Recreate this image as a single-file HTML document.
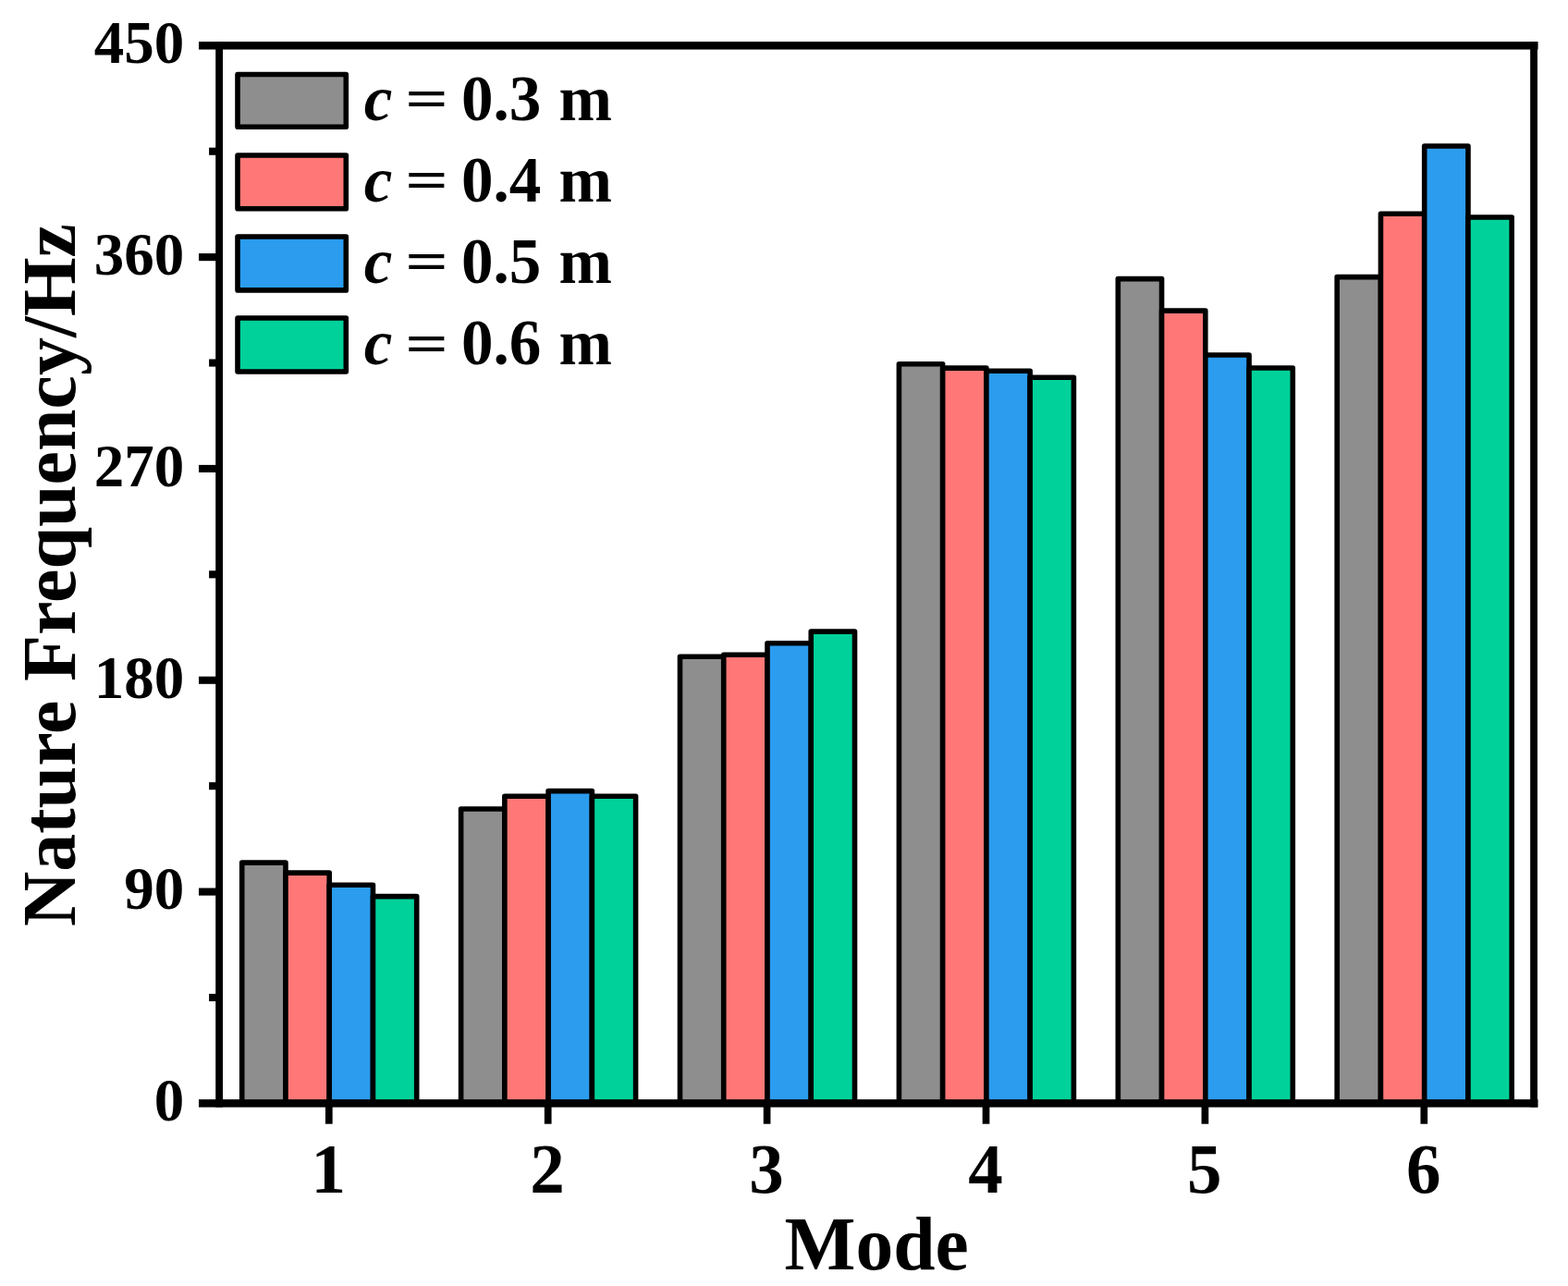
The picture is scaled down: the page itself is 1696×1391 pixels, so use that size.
<!DOCTYPE html>
<html lang="en"><head><meta charset="utf-8"><title>Nature Frequency by Mode</title>
<style>
html,body{margin:0;padding:0;background:#fff;}
body{width:1696px;height:1391px;overflow:hidden;}
svg{display:block;}
text{font-family:"Liberation Serif","Times New Roman",Times,serif;font-weight:bold;fill:#000;}
.yt{font-size:65px;text-anchor:end;}
.xt{font-size:75px;text-anchor:middle;}
.lg{font-size:69px;white-space:pre;}
.ti{font-size:81.5px;text-anchor:middle;}
.bar{stroke:#000;stroke-width:5.6;stroke-linejoin:round;}
.lb{stroke:#000;stroke-width:5.6;stroke-linejoin:round;}
</style></head><body>
<svg width="1696" height="1391" viewBox="0 0 1696 1391">
<rect x="0" y="0" width="1696" height="1391" fill="#fff"/>
<g id="bars">
<rect class="bar" x="261.7" y="933.1" width="47.25" height="260.3" fill="#8e8e8e"/>
<rect class="bar" x="308.95" y="944.1" width="47.25" height="249.3" fill="#ff7877"/>
<rect class="bar" x="356.2" y="957.2" width="47.25" height="236.2" fill="#2b9cee"/>
<rect class="bar" x="403.45" y="969.6" width="47.25" height="223.8" fill="#00d19a"/>
<rect class="bar" x="498.6" y="875.05" width="47.25" height="318.35" fill="#8e8e8e"/>
<rect class="bar" x="545.85" y="861.2" width="47.25" height="332.2" fill="#ff7877"/>
<rect class="bar" x="593.1" y="855.6" width="47.25" height="337.8" fill="#2b9cee"/>
<rect class="bar" x="640.35" y="861.2" width="47.25" height="332.2" fill="#00d19a"/>
<rect class="bar" x="735.5" y="710.3" width="47.25" height="483.1" fill="#8e8e8e"/>
<rect class="bar" x="782.75" y="708.3" width="47.25" height="485.1" fill="#ff7877"/>
<rect class="bar" x="830" y="695.7" width="47.25" height="497.7" fill="#2b9cee"/>
<rect class="bar" x="877.25" y="683.1" width="47.25" height="510.3" fill="#00d19a"/>
<rect class="bar" x="972.4" y="393.7" width="47.25" height="799.7" fill="#8e8e8e"/>
<rect class="bar" x="1019.65" y="398.1" width="47.25" height="795.3" fill="#ff7877"/>
<rect class="bar" x="1066.9" y="401.2" width="47.25" height="792.2" fill="#2b9cee"/>
<rect class="bar" x="1114.15" y="408.2" width="47.25" height="785.2" fill="#00d19a"/>
<rect class="bar" x="1209.3" y="301.6" width="47.25" height="891.8" fill="#8e8e8e"/>
<rect class="bar" x="1256.55" y="336.1" width="47.25" height="857.3" fill="#ff7877"/>
<rect class="bar" x="1303.8" y="384" width="47.25" height="809.4" fill="#2b9cee"/>
<rect class="bar" x="1351.05" y="398" width="47.25" height="795.4" fill="#00d19a"/>
<rect class="bar" x="1446.2" y="299.6" width="47.25" height="893.8" fill="#8e8e8e"/>
<rect class="bar" x="1493.45" y="231.2" width="47.25" height="962.2" fill="#ff7877"/>
<rect class="bar" x="1540.7" y="158" width="47.25" height="1035.4" fill="#2b9cee"/>
<rect class="bar" x="1587.95" y="235" width="47.25" height="958.4" fill="#00d19a"/>
</g>
<g id="axes" fill="#000">
<rect x="215" y="45.05" width="1448.55" height="8.5"/>
<rect x="215" y="1189.15" width="1448.55" height="8.5"/>
<rect x="233.2" y="45.05" width="7.8" height="1152.6"/>
<rect x="1655.15" y="45.05" width="7.8" height="1152.6"/>
<rect x="226.1" y="1074.94" width="11" height="8.1"/>
<rect x="215" y="960.53" width="22.1" height="8.1"/>
<rect x="226.1" y="846.12" width="11" height="8.1"/>
<rect x="215" y="731.71" width="22.1" height="8.1"/>
<rect x="226.1" y="617.3" width="11" height="8.1"/>
<rect x="215" y="502.89" width="22.1" height="8.1"/>
<rect x="226.1" y="388.48" width="11" height="8.1"/>
<rect x="215" y="274.07" width="22.1" height="8.1"/>
<rect x="226.1" y="159.66" width="11" height="8.1"/>
<rect x="351.95" y="1193.4" width="7.7" height="22.3"/>
<rect x="588.85" y="1193.4" width="7.7" height="22.3"/>
<rect x="825.75" y="1193.4" width="7.7" height="22.3"/>
<rect x="1062.65" y="1193.4" width="7.7" height="22.3"/>
<rect x="1299.55" y="1193.4" width="7.7" height="22.3"/>
<rect x="1536.45" y="1193.4" width="7.7" height="22.3"/>
</g>
<g id="ylabels">
<text class="yt" transform="translate(199.3 1212.2) scale(1 1.02)">0</text>
<text class="yt" transform="translate(199.3 983.38) scale(1 1.02)">90</text>
<text class="yt" transform="translate(199.3 754.56) scale(1 1.02)">180</text>
<text class="yt" transform="translate(199.3 525.74) scale(1 1.02)">270</text>
<text class="yt" transform="translate(199.3 296.92) scale(1 1.02)">360</text>
<text class="yt" transform="translate(199.3 68.1) scale(1 1.02)">450</text>
</g>
<g id="xlabels">
<text class="xt" transform="translate(355.2 1290.4) scale(1 1.02)">1</text>
<text class="xt" transform="translate(592.1 1290.4) scale(1 1.02)">2</text>
<text class="xt" transform="translate(829 1290.4) scale(1 1.02)">3</text>
<text class="xt" transform="translate(1065.9 1290.4) scale(1 1.02)">4</text>
<text class="xt" transform="translate(1302.8 1290.4) scale(1 1.02)">5</text>
<text class="xt" transform="translate(1539.7 1290.4) scale(1 1.02)">6</text>
</g>
<text class="ti" x="948.1" y="1372.5">Mode</text>
<text class="ti" style="font-size:82px" transform="translate(81 622) rotate(-90)" x="0" y="0">Nature Frequency/Hz</text>
<g id="legend">
<rect class="lb" x="257" y="80.5" width="117.3" height="56.7" fill="#8e8e8e"/>
<text class="lg" transform="translate(0 130) scale(1 1.02)"><tspan x="393.7" font-style="italic">c</tspan><tspan> </tspan><tspan x="438.3" dy="-3.58" textLength="46.66" lengthAdjust="spacingAndGlyphs" style="font-size:57.3px">=</tspan><tspan dy="3.58"> </tspan><tspan x="499">0.3</tspan><tspan> </tspan><tspan x="604.4">m</tspan></text>
<rect class="lb" x="257" y="168" width="117.3" height="57.7" fill="#ff7877"/>
<text class="lg" transform="translate(0 217.8) scale(1 1.02)"><tspan x="393.7" font-style="italic">c</tspan><tspan> </tspan><tspan x="438.3" dy="-3.58" textLength="46.66" lengthAdjust="spacingAndGlyphs" style="font-size:57.3px">=</tspan><tspan dy="3.58"> </tspan><tspan x="499">0.4</tspan><tspan> </tspan><tspan x="604.4">m</tspan></text>
<rect class="lb" x="257" y="256" width="117.3" height="57.9" fill="#2b9cee"/>
<text class="lg" transform="translate(0 306) scale(1 1.02)"><tspan x="393.7" font-style="italic">c</tspan><tspan> </tspan><tspan x="438.3" dy="-3.58" textLength="46.66" lengthAdjust="spacingAndGlyphs" style="font-size:57.3px">=</tspan><tspan dy="3.58"> </tspan><tspan x="499">0.5</tspan><tspan> </tspan><tspan x="604.4">m</tspan></text>
<rect class="lb" x="257" y="344" width="117.3" height="58" fill="#00d19a"/>
<text class="lg" transform="translate(0 394.2) scale(1 1.02)"><tspan x="393.7" font-style="italic">c</tspan><tspan> </tspan><tspan x="438.3" dy="-3.58" textLength="46.66" lengthAdjust="spacingAndGlyphs" style="font-size:57.3px">=</tspan><tspan dy="3.58"> </tspan><tspan x="499">0.6</tspan><tspan> </tspan><tspan x="604.4">m</tspan></text>
</g>
</svg>
</body></html>
